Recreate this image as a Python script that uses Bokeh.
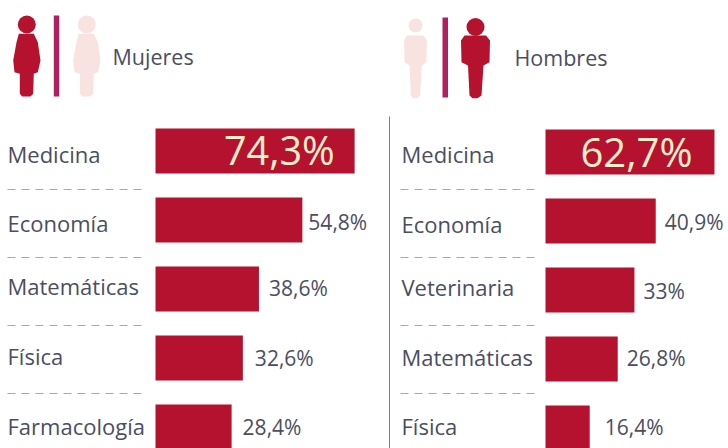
from bokeh.plotting import figure
from bokeh.layouts import row
from bokeh.models import Range1d, ColumnDataSource
from bokeh.core.properties import value
from bokeh.embed import file_html
from bokeh.resources import INLINE

# ---- data ----
women_title = "Mujeres"
men_title = "Hombres"
women_cats = ["Medicina", "Economía", "Matemáticas", "Física", "Farmacología"]
women_vals = [74.3, 54.8, 38.6, 32.6, 28.4]
women_text = ["74,3%", "54,8%", "38,6%", "32,6%", "28,4%"]
men_cats = ["Medicina", "Economía", "Veterinaria", "Matemáticas", "Física"]
men_vals = [62.7, 40.9, 33, 26.8, 16.4]
men_text = ["62,7%", "40,9%", "33%", "26,8%", "16,4%"]

# ---- style ----
FONT = value("Open Sans")
BAR = "#b5122f"
INK = "#4b4e63"
PALE = "#f8e3e0"
MAGENTA = "#b0205f"
CREAM = "#fbeecb"
RULE = "#a4a9b6"
PAGE_W, PAGE_H, M = 728, 448, 0
ROW_PX = 69.0
BAR_PX = 45.0


def panel(x0, x1, bar_x, scale, row0, cats, vals, texts, val_offsets, val_dy, lab_dy,
          big_right, big_size, lab_x, rule_x0, rule_x1):
    p = figure(
        width=int(x1 - x0), height=PAGE_H - M, output_backend="svg", toolbar_location=None,
        x_range=Range1d((x0 - bar_x) / scale, (x1 - bar_x) / scale),
        y_range=Range1d((PAGE_H - row0) / ROW_PX, (M - row0) / ROW_PX),
        x_axis_location=None, y_axis_location=None, min_border=0,
        outline_line_color=None, background_fill_color="white", border_fill_color="white",
    )
    p.grid.visible = False
    p.extra_x_ranges["px"] = Range1d(x0, x1)
    p.extra_y_ranges["px"] = Range1d(PAGE_H, M)

    rows = list(range(len(cats)))
    p.hbar(y=rows, left=0, right=vals, height=BAR_PX / ROW_PX, fill_color=BAR, line_color=None)

    # category labels
    lab = ColumnDataSource(dict(y=rows, t=cats, dy=lab_dy, x=[lab_x] * len(cats)))
    p.text(x="x", y="y", text="t", y_offset="dy", source=lab, x_range_name="px",
           text_font=FONT, text_font_size="22px", text_color=INK,
           text_baseline="middle", text_align="left")

    # value labels outside the bars
    src = ColumnDataSource(dict(x=vals[1:], y=rows[1:], t=texts[1:], dx=val_offsets, dy=val_dy))
    p.text(x="x", y="y", text="t", x_offset="dx", y_offset="dy", source=src,
           text_font=FONT, text_font_size="21px", text_color=INK,
           text_baseline="middle", text_align="left")

    # big value inside the first bar
    p.text(x=[vals[0]], y=[rows[0]], text=[texts[0]], x_offset=[big_right], y_offset=[-1],
           text_font=FONT, text_font_size=big_size, text_color=CREAM,
           text_baseline="middle", text_align="right")

    # dashed separators
    for yy in (189, 257, 325, 393):
        p.line([rule_x0, rule_x1], [yy, yy], x_range_name="px", y_range_name="px",
               line_color=RULE, line_width=1, line_dash="8 6")
    return p


def woman(p, dx, color):
    xs = [18.3, 33.3, 37.3, 40, 37.3, 33.3, 32.7, 30, 21.7, 19.3, 19.3, 14, 12.7, 16]
    ys = [33.3, 33.3, 41.7, 60, 71.7, 73.3, 93.3, 96, 96, 93.3, 73.3, 71.7, 60, 41.7]
    p.patch([x + dx for x in xs], ys, x_range_name="px", y_range_name="px",
            fill_color=color, line_color=None)
    p.scatter([26.3 + dx], [24], size=18, marker="circle", x_range_name="px", y_range_name="px",
              fill_color=color, line_color=None)


def man(p, cx, k, head_y, color):
    xs = [-14.5, -11, 10.5, 14.5, 14, 8, 6, 2, -3, -6, -7.5, -14]
    ys = [40, 35, 35, 40, 61.7, 65, 95, 97.7, 97.7, 95, 65, 61.7]
    p.patch([cx + x * k for x in xs], ys, x_range_name="px", y_range_name="px",
            fill_color=color, line_color=None)
    p.scatter([cx], [head_y], size=18 * k, marker="circle", x_range_name="px", y_range_name="px",
              fill_color=color, line_color=None)


left = panel(M, 388, 155, 2.68, 150.5, women_cats, women_vals, women_text,
             val_offsets=[6, 10, 12, 11], val_dy=[2, -1, 0, 0], lab_dy=[3, 3, -3, -2, -1],
             big_right=-20, big_size="39.5px", lab_x=7, rule_x0=7, rule_x1=146)
woman(left, 0, BAR)
woman(left, 60, PALE)
left.quad(left=[53.3], right=[58.7], top=[15], bottom=[96], x_range_name="px", y_range_name="px",
          fill_color=MAGENTA, line_color=None)
left.text(x=[112], y=[56], text=[women_title], x_range_name="px", y_range_name="px",
          text_font=FONT, text_font_size="21.5px", text_color=INK, text_baseline="middle")

right = panel(388, PAGE_W, 545, 2.695, 151.5, men_cats, men_vals, men_text,
              val_offsets=[9, 9, 9, 15], val_dy=[1, 1, -1, -1], lab_dy=[2, 3, -3, -2, -2],
              big_right=-22, big_size="40px", lab_x=401, rule_x0=400, rule_x1=540)
man(right, 475, 1, 26.5, BAR)
man(right, 415, 0.78, 25, PALE)
right.quad(left=[442], right=[447.5], top=[17], bottom=[97], x_range_name="px", y_range_name="px",
           fill_color=MAGENTA, line_color=None)
right.text(x=[514], y=[57], text=[men_title], x_range_name="px", y_range_name="px",
           text_font=FONT, text_font_size="21.5px", text_color=INK, text_baseline="middle")
right.line([389, 389], [116, 448], x_range_name="px", y_range_name="px",
           line_color="#7c8098", line_width=1)

page = row(left, right, spacing=0)
open("out.html", "w").write(file_html(page, INLINE))
